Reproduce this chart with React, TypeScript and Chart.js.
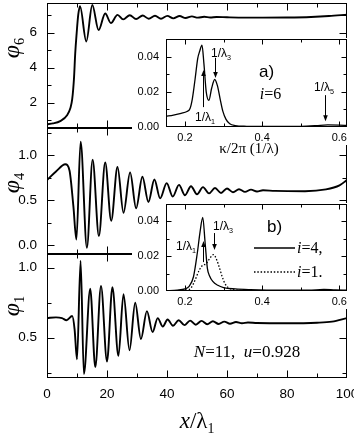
import React, { useEffect, useRef } from "react";
import { Chart, registerables } from "chart.js";
Chart.register(...registerables);

const W = 354;
const H = 434;

// ---------- data ----------
// main panels: x in units of lambda_1
const xPhi6 = [0, 2, 4.4, 6.7, 7.8, 8.4, 9.0, 9.4, 9.9, 10.4, 11.0, 13.1, 15.1, 17.2, 19.4, 21.3, 23.5, 25.4, 27.6, 29.7, 31.9, 33.9, 36.0, 38.0, 40.1, 42.1, 44.2, 46.2, 48.3, 50.3, 52.4, 54.4, 56.5, 60, 66, 72, 80, 88, 94, 100];
const yPhi6 = [0.77, 0.82, 0.95, 1.28, 1.7, 2.2, 3.4, 4.8, 6.0, 7.0, 7.52, 5.5, 7.58, 6.15, 7.1, 6.55, 7.02, 6.76, 7.0, 6.78, 6.98, 6.8, 6.97, 6.8, 6.96, 6.82, 6.95, 6.84, 6.93, 6.86, 6.91, 6.87, 6.9, 6.88, 6.86, 6.86, 6.87, 6.9, 6.95, 7.03];

const xPhi4 = [0, 3, 6.1, 7.5, 8.8, 9.8, 11.2, 13.3, 15.2, 17.3, 19.4, 21.4, 23.5, 25.5, 27.7, 29.7, 31.8, 33.8, 35.8, 37.7, 39.9, 41.9, 44.0, 46.0, 48.0, 50.0, 52.0, 54.0, 56.0, 58.0, 60.0, 62.0, 64.0, 66.0, 68.0, 70.0, 72.0, 76, 86, 93, 97.5, 100];
const yPhi4 = [0.725, 0.82, 0.9, 0.83, 0.43, 0.06, 1.15, -0.03, 0.95, 0.1, 0.92, 0.27, 0.87, 0.36, 0.81, 0.41, 0.76, 0.48, 0.73, 0.52, 0.69, 0.54, 0.67, 0.555, 0.655, 0.565, 0.645, 0.575, 0.635, 0.58, 0.63, 0.588, 0.622, 0.592, 0.617, 0.597, 0.61, 0.603, 0.6, 0.62, 0.665, 0.725];

const xPhi1 = [0, 3, 5, 6.5, 8.4, 9.2, 10.0, 11.2, 12.3, 14.4, 16.1, 18.0, 20.0, 21.8, 23.8, 25.5, 27.5, 29.4, 31.3, 33.3, 35.2, 36.9, 38.6, 40.2, 42.0, 43.9, 45.8, 47.7, 49.6, 51.5, 53.4, 55.3, 57.2, 59.1, 61.0, 63.0, 65.0, 67.0, 70, 80, 90, 95, 100];
const yPhi1 = [0.64, 0.645, 0.64, 0.625, 0.655, 0.56, 0.345, 1.05, 0.24, 0.85, 0.29, 0.87, 0.33, 0.86, 0.37, 0.81, 0.41, 0.75, 0.49, 0.69, 0.54, 0.64, 0.58, 0.63, 0.585, 0.625, 0.59, 0.622, 0.593, 0.62, 0.596, 0.617, 0.598, 0.615, 0.6, 0.612, 0.603, 0.609, 0.605, 0.603, 0.607, 0.615, 0.64];

// inset a: spectrum for i=6
const kA = [0.15, 0.17, 0.19, 0.205, 0.213, 0.219, 0.226, 0.233, 0.238, 0.244, 0.249, 0.255, 0.262, 0.269, 0.277, 0.284, 0.291, 0.298, 0.306, 0.316, 0.33, 0.36, 0.4, 0.45, 0.5, 0.54, 0.57, 0.6, 0.62];
const sA = [0.006, 0.0068, 0.0078, 0.0088, 0.0105, 0.016, 0.027, 0.039, 0.043, 0.0465, 0.036, 0.02, 0.0152, 0.022, 0.027, 0.0235, 0.016, 0.009, 0.0045, 0.0018, 0.0008, 0.0004, 0.0003, 0.0003, 0.0004, 0.0008, 0.0012, 0.0011, 0.0009];

// inset b: spectra for i=4 (solid) and i=1 (dotted)
const kB4 = [0.15, 0.18, 0.2, 0.21, 0.222, 0.232, 0.239, 0.246, 0.252, 0.258, 0.264, 0.272, 0.285, 0.3, 0.33, 0.37, 0.45, 0.52, 0.56, 0.59, 0.62];
const sB4 = [0.0002, 0.0005, 0.0012, 0.0025, 0.0082, 0.022, 0.034, 0.0423, 0.028, 0.013, 0.0085, 0.0055, 0.0033, 0.002, 0.0012, 0.0008, 0.0005, 0.0005, 0.0009, 0.0006, 0.0005];
const kB1 = [0.15, 0.19, 0.205, 0.215, 0.226, 0.237, 0.246, 0.254, 0.262, 0.274, 0.282, 0.289, 0.296, 0.303, 0.312, 0.325, 0.35, 0.4, 0.62];
const sB1 = [0.0, 0.0002, 0.0007, 0.0016, 0.0062, 0.012, 0.0148, 0.0155, 0.018, 0.0209, 0.018, 0.0135, 0.0085, 0.0045, 0.002, 0.0008, 0.0003, 0.0001, 0.0001];

// arrows (k position, tail value, head value)
const arrowAK = [0.246, 0.277, 0.562];
const arrowAFrom = [0.0113, 0.0393, 0.0181];
const arrowATo = [0.0324, 0.0278, 0.0033];
const arrowBK = [0.246, 0.276];
const arrowBFrom = [0.0166, 0.0333];
const arrowBTo = [0.0287, 0.0235];

// tick values
const xMajorMain = [0, 20, 40, 60, 80, 100];
const xMinorMain = [10, 30, 50, 70, 90];
const phi6Major = [2, 4, 6];
const phi6Minor = [1, 3, 5, 7];
const phi4Major = [0, 0.5, 1.0];
const phi4Minor = [0.25, 0.75, 1.25];
const phi1Major = [0.5, 1.0];
const phi1Minor = [0.25, 0.75];
const kMajor = [0.2, 0.4, 0.6];
const kMinor = [0.3, 0.5];
const sMajor = [0, 0.02, 0.04];
const sMinor = [0.01, 0.03, 0.05];

// ---------- helpers ----------
type AxisSpec = { min: number; max: number; major: number[]; minor: number[]; decimals: number; show: boolean; pad: number };
type Spec = {
  area: { left: number; top: number; right: number; bottom: number };
  x: AxisSpec;
  y: AxisSpec;
  datasets: any[];
  font: number;
  tMaj: number;
  tMin: number;
  bg?: { stripLeft: number; stripTop: number; stripBottom: number; xLeft: number; xBottom: number };
  extra?: (chart: any) => void;
};

const SANS = "'Liberation Sans', Arial, Helvetica, sans-serif";
const SERIF = "'Liberation Serif', 'Times New Roman', serif";

const pts = (xs: number[], ys: number[]) => xs.map((x, i) => ({ x, y: ys[i] }));
const isIn = (arr: number[], v: number) => arr.some((m) => Math.abs(m - v) < 1e-9);

function line(xs: number[], ys: number[], width: number, dash?: number[]) {
  return {
    data: pts(xs, ys),
    borderColor: "#000",
    borderWidth: width,
    borderDash: dash || [],
    pointRadius: 0,
    fill: false,
    cubicInterpolationMode: "monotone",
  };
}

function drawArrow(ctx: CanvasRenderingContext2D, x: number, y0: number, y1: number) {
  const dir = y1 > y0 ? 1 : -1;
  const hl = 6;
  const hw = 2.3;
  ctx.beginPath();
  ctx.moveTo(x, y0);
  ctx.lineTo(x, y1 - dir * hl + dir);
  ctx.stroke();
  ctx.beginPath();
  ctx.moveTo(x, y1);
  ctx.lineTo(x - hw, y1 - dir * hl);
  ctx.lineTo(x + hw, y1 - dir * hl);
  ctx.closePath();
  ctx.fill();
}

function build(canvas: HTMLCanvasElement, p: Spec) {
  const xH = p.x.show ? 24 : 0;
  const cb = (ax: AxisSpec) => (v: any) => (isIn(ax.major, Number(v)) ? Number(v).toFixed(ax.decimals) : "");
  const setTicks = (ax: AxisSpec) => (scale: any) => {
    scale.ticks = [...ax.major, ...ax.minor].sort((a, b) => a - b).map((v) => ({ value: v }));
  };
  const frame = {
    id: "frame",
    beforeDraw(chart: any) {
      if (!p.bg) return;
      const { ctx, chartArea: a } = chart;
      const b = p.bg;
      ctx.save();
      ctx.fillStyle = "#fff";
      ctx.fillRect(a.left - b.stripLeft, a.top + b.stripTop, b.stripLeft, a.bottom + b.stripBottom - (a.top + b.stripTop));
      ctx.fillRect(a.left - b.xLeft, a.bottom, a.right - a.left + b.xLeft, b.xBottom);
      ctx.fillRect(a.left, a.top - 1, a.right - a.left, a.bottom - a.top + 1);
      ctx.restore();
    },
    afterDraw(chart: any) {
      const { ctx, chartArea: a, scales } = chart;
      const xs = scales.x;
      const ys = scales.y;
      const L = Math.round(a.left) + 0.5;
      const R = Math.round(a.right) - 0.5;
      const T = Math.round(a.top) + 0.5;
      const B = Math.round(a.bottom) - 0.5;
      ctx.save();
      ctx.strokeStyle = "#000";
      ctx.fillStyle = "#000";
      ctx.lineWidth = 1;
      ctx.strokeRect(L, T, R - L, B - T);
      ctx.beginPath();
      for (const t of xs.ticks) {
        const px = Math.round(xs.getPixelForValue(t.value)) + 0.5;
        if (px < L - 0.1 || px > R + 0.1) continue;
        const len = isIn(p.x.major, t.value) ? p.tMaj : p.tMin;
        ctx.moveTo(px, B);
        ctx.lineTo(px, B - len);
        ctx.moveTo(px, T);
        ctx.lineTo(px, T + len);
      }
      for (const t of ys.ticks) {
        const py = Math.round(ys.getPixelForValue(t.value)) + 0.5;
        if (py < T - 0.1 || py > B + 0.1) continue;
        const len = isIn(p.y.major, t.value) ? p.tMaj : p.tMin;
        ctx.moveTo(L, py);
        ctx.lineTo(L + len, py);
        ctx.moveTo(R, py);
        ctx.lineTo(R - len, py);
      }
      ctx.stroke();
      if (p.extra) p.extra(chart);
      ctx.restore();
    },
  };
  const fontObj = { family: SANS, size: p.font };
  return new Chart(canvas, {
    type: "line",
    data: { datasets: p.datasets },
    options: {
      animation: false,
      responsive: false,
      devicePixelRatio: 1,
      events: [],
      layout: {
        padding: { left: 0, top: p.area.top, right: W - p.area.right, bottom: H - p.area.bottom - xH },
      },
      plugins: { legend: { display: false }, tooltip: { enabled: false }, title: { display: false } },
      scales: {
        x: {
          type: "linear",
          min: p.x.min,
          max: p.x.max,
          grid: { display: false, drawTicks: false, tickLength: 0 },
          border: { display: false },
          ticks: { display: p.x.show, padding: p.x.pad, color: "#000", font: fontObj, callback: cb(p.x), maxRotation: 0, minRotation: 0, autoSkip: false },
          afterBuildTicks: setTicks(p.x),
          afterFit: (s: any) => {
            s.height = xH;
            s.paddingLeft = 0;
            s.paddingRight = 0;
          },
        },
        y: {
          type: "linear",
          min: p.y.min,
          max: p.y.max,
          grid: { display: false, drawTicks: false, tickLength: 0 },
          border: { display: false },
          ticks: { display: p.y.show, padding: p.y.pad, color: "#000", font: fontObj, callback: cb(p.y), autoSkip: false },
          afterBuildTicks: setTicks(p.y),
          afterFit: (s: any) => {
            s.width = p.area.left;
            s.paddingTop = 0;
            s.paddingBottom = 0;
          },
        },
      },
    } as any,
    plugins: [frame],
  } as any);
}

const mainX = (show: boolean): AxisSpec => ({ min: 0, max: 100, major: xMajorMain, minor: xMinorMain, decimals: 0, show, pad: 8 });
const insetX: AxisSpec = { min: 0.1507, max: 0.62, major: kMajor, minor: kMinor, decimals: 1, show: true, pad: 4 };
const insetY: AxisSpec = { min: 0, max: 0.05, major: sMajor, minor: sMinor, decimals: 2, show: true, pad: 7 };

function arrowsExtra(ks: number[], from: number[], to: number[]) {
  return (chart: any) => {
    const { ctx, scales } = chart;
    ctx.lineWidth = 1;
    ks.forEach((k, i) => {
      const x = Math.round(scales.x.getPixelForValue(k)) + 0.5;
      drawArrow(ctx, x, scales.y.getPixelForValue(from[i]), scales.y.getPixelForValue(to[i]));
    });
  };
}

const specs: Spec[] = [
  {
    area: { left: 47, top: 3, right: 347, bottom: 128 },
    x: mainX(false),
    y: { min: 0.554, max: 7.697, major: phi6Major, minor: phi6Minor, decimals: 0, show: true, pad: 10 },
    datasets: [line(xPhi6, yPhi6, 1.9)],
    font: 13.5,
    tMaj: 7,
    tMin: 4,
  },
  {
    area: { left: 47, top: 128, right: 347, bottom: 254 },
    x: mainX(false),
    y: { min: -0.1, max: 1.304, major: phi4Major, minor: phi4Minor, decimals: 1, show: true, pad: 10 },
    datasets: [line(xPhi4, yPhi4, 1.9)],
    font: 13.5,
    tMaj: 7,
    tMin: 4,
  },
  {
    area: { left: 47, top: 254, right: 347, bottom: 378 },
    x: mainX(true),
    y: { min: 0.212, max: 1.098, major: phi1Major, minor: phi1Minor, decimals: 1, show: true, pad: 10 },
    datasets: [line(xPhi1, yPhi1, 1.9)],
    font: 13.5,
    tMaj: 7,
    tMin: 4,
  },
  {
    area: { left: 166, top: 39, right: 347, bottom: 127 },
    x: insetX,
    y: insetY,
    datasets: [line(kA, sA, 1.3)],
    font: 11,
    tMaj: 5,
    tMin: 3,
    bg: { stripLeft: 34, stripTop: 8, stripBottom: 7, xLeft: 5, xBottom: 18 },
    extra: arrowsExtra(arrowAK, arrowAFrom, arrowATo),
  },
  {
    area: { left: 166, top: 204, right: 347, bottom: 291 },
    x: insetX,
    y: insetY,
    datasets: [line(kB4, sB4, 1.3), line(kB1, sB1, 1.3, [1.5, 1.8])],
    font: 11,
    tMaj: 5,
    tMin: 3,
    bg: { stripLeft: 34, stripTop: 8, stripBottom: 7, xLeft: 5, xBottom: 18 },
    extra: (chart: any) => {
      arrowsExtra(arrowBK, arrowBFrom, arrowBTo)(chart);
      const { ctx, chartArea: a } = chart;
      ctx.lineWidth = 1.3;
      ctx.beginPath();
      ctx.moveTo(a.left + 88, a.top + 44);
      ctx.lineTo(a.left + 129, a.top + 44);
      ctx.stroke();
      ctx.setLineDash([1.5, 1.8]);
      ctx.beginPath();
      ctx.moveTo(a.left + 88, a.top + 68);
      ctx.lineTo(a.left + 129, a.top + 68);
      ctx.stroke();
      ctx.setLineDash([]);
    },
  },
];

// ---------- text helpers ----------
const Sub = ({ children }: { children: any }) => (
  <span style={{ fontSize: "0.6em", position: "relative", top: "0.35em", fontStyle: "normal" }}>{children}</span>
);

function Label({ x, y, children, style, rotate, left }: { x: number; y: number; children: any; style?: any; rotate?: boolean; left?: boolean }) {
  const tr = left ? "translate(0,-50%)" : "translate(-50%,-50%)" + (rotate ? " rotate(-90deg)" : "");
  return (
    <div style={{ position: "absolute", left: x, top: y, transform: tr, whiteSpace: "nowrap", lineHeight: 1, color: "#000", ...style }}>
      {children}
    </div>
  );
}

export default function App() {
  const r0 = useRef<HTMLCanvasElement>(null);
  const r1 = useRef<HTMLCanvasElement>(null);
  const r2 = useRef<HTMLCanvasElement>(null);
  const r3 = useRef<HTMLCanvasElement>(null);
  const r4 = useRef<HTMLCanvasElement>(null);
  const refs = [r0, r1, r2, r3, r4];

  useEffect(() => {
    const charts = refs.map((r, i) => build(r.current as HTMLCanvasElement, specs[i]));
    return () => charts.forEach((c) => c.destroy());
  }, []);

  const phiStyle = { fontFamily: SERIF, fontSize: 24, fontStyle: "italic" };
  const lamStyle = { fontFamily: SANS, fontSize: 12 };
  const serif16 = { fontFamily: SERIF, fontSize: 16 };

  return (
    <div style={{ position: "absolute", left: 0, top: 0, width: W, height: H, background: "#fff", overflow: "hidden" }}>
      {refs.map((r, i) => (
        <canvas key={i} ref={r} width={W} height={H} style={{ position: "absolute", left: 0, top: 0, width: W, height: H }} />
      ))}

      <Label x={11} y={48} rotate style={phiStyle}>φ<Sub>6</Sub></Label>
      <Label x={11} y={183} rotate style={phiStyle}>φ<Sub>4</Sub></Label>
      <Label x={11} y={306} rotate style={phiStyle}>φ<Sub>1</Sub></Label>

      <Label x={197} y={420} style={{ fontFamily: SERIF, fontSize: 23 }}>
        <i>x</i>/λ<Sub>1</Sub>
      </Label>
      <Label x={247} y={351} style={{ fontFamily: SERIF, fontSize: 17 }}>
        <i>N</i>=11,&nbsp;&nbsp;<i>u</i>=0.928
      </Label>

      <Label x={266.5} y={71} style={{ fontFamily: SANS, fontSize: 17 }}>a)</Label>
      <Label x={270.5} y={94} style={serif16}>
        <i>i</i>=6
      </Label>
      <Label x={249} y={148} style={{ fontFamily: SERIF, fontSize: 15 }}>κ/2π (1/λ)</Label>
      <Label x={221} y={53} style={lamStyle}>1/λ<Sub>3</Sub></Label>
      <Label x={205} y={117} style={lamStyle}>1/λ<Sub>1</Sub></Label>
      <Label x={324} y={87} style={lamStyle}>1/λ<Sub>5</Sub></Label>

      <Label x={274.5} y={226} style={{ fontFamily: SANS, fontSize: 17 }}>b)</Label>
      <Label x={186} y={246} style={lamStyle}>1/λ<Sub>1</Sub></Label>
      <Label x={223} y={226} style={lamStyle}>1/λ<Sub>3</Sub></Label>
      <Label x={297} y={248} left style={serif16}>
        <i>i</i>=4,
      </Label>
      <Label x={297} y={272} left style={serif16}>
        <i>i</i>=1.
      </Label>
    </div>
  );
}
